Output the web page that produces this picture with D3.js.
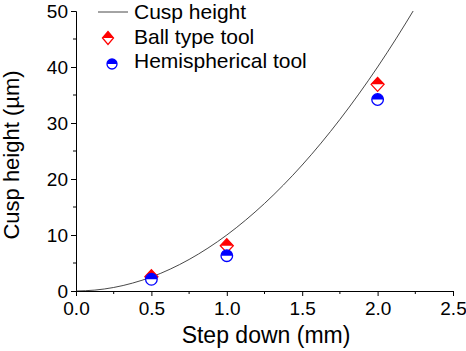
<!DOCTYPE html>
<html><head><meta charset="utf-8">
<script src="https://cdn.jsdelivr.net/npm/d3@7"></script>
<style>body{margin:0;background:#fff;} svg{display:block;font-family:"Liberation Sans",Arial,sans-serif;}</style>
</head><body><svg id="c" width="466" height="351"></svg>
<script>
// theoretical cusp height curve (step down mm, cusp height µm)
const curveStep = [0,0.125,0.25,0.375,0.5,0.625,0.75,0.875,1.0,1.125,1.25,1.375,1.5,1.625,1.75,1.875,2.0,2.125,2.25];
const curveHeight = [0,0.16,0.63,1.41,2.5,3.91,5.63,7.66,10,12.66,15.63,18.91,22.5,26.41,30.63,35.16,40,45.16,50.63];
const stepDown = [0.5,1.0,2.0];
const ballType = [2.55,8.1,36.9];
const hemispherical = [2.1,6.3,34.2];
const xTicks = [0,0.5,1.0,1.5,2.0,2.5];
const yTicks = [0,10,20,30,40,50];
const legendLabels = ["Cusp height","Ball type tool","Hemispherical tool"];

const svg = d3.select("#c");
const x = d3.scaleLinear().domain([0,2.5]).range([76,453]);
const y = d3.scaleLinear().domain([0,50]).range([291,11]);
const FONT = "Liberation Sans, Arial, sans-serif";

svg.append("clipPath").attr("id","clip").append("rect")
  .attr("x",76).attr("y",11).attr("width",377).attr("height",280);

// axes
const xAxis = d3.axisBottom(x).tickValues(xTicks).tickFormat(d3.format(".1f")).tickSizeOuter(0).tickSize(5).tickPadding(6);
const gx = svg.append("g").attr("transform","translate(0,291)").call(xAxis);
gx.selectAll(".tick line").attr("stroke","#000");
gx.selectAll("text").attr("font-size",19).attr("fill","#000").attr("font-family",FONT);
gx.append("g").selectAll("line").data(d3.range(0.25,2.5,0.5)).join("line")
  .attr("x1",d=>x(d)).attr("x2",d=>x(d)).attr("y1",0).attr("y2",3).attr("stroke","#000");

const yAxis = d3.axisLeft(y).tickValues(yTicks).tickSizeOuter(0).tickSize(5).tickPadding(3);
const gy = svg.append("g").attr("transform","translate(76,0)").call(yAxis);
gy.selectAll("text").attr("font-size",19).attr("fill","#000").attr("font-family",FONT);
gy.append("g").selectAll("line").data(d3.range(5,50,10)).join("line")
  .attr("y1",d=>y(d)).attr("y2",d=>y(d)).attr("x1",0).attr("x2",-3).attr("stroke","#000");
svg.selectAll(".domain").attr("stroke","#000");

// axis titles
svg.append("text").attr("x",266).attr("y",343).attr("text-anchor","middle")
  .attr("font-size",23).text("Step down (mm)");
svg.append("text").attr("transform","translate(19,155) rotate(-90)").attr("text-anchor","middle")
  .attr("font-size",22).text("Cusp height (\u00b5m)");

// curve
const line = d3.line().x((d,i)=>x(curveStep[i])).y(d=>y(d)).curve(d3.curveMonotoneX);
svg.append("path").datum(curveHeight).attr("d",line).attr("fill","none")
  .attr("stroke","#333").attr("stroke-width",0.9).attr("clip-path","url(#clip)");

// markers
function diamond(g, cx, cy, w, h){
  g.append("path").attr("d",`M${cx-w},${cy}L${cx},${cy+h}L${cx+w},${cy}Z`).attr("fill","#fff");
  g.append("path").attr("d",`M${cx-w},${cy}L${cx},${cy-h}L${cx+w},${cy}Z`).attr("fill","#ff0000");
  g.append("path").attr("d",`M${cx-w},${cy}L${cx},${cy-h}L${cx+w},${cy}L${cx},${cy+h}Z`).attr("fill","none").attr("stroke","#ff0000").attr("stroke-width",1.3);
}
function halfCircle(g, cx, cy, r){
  g.append("circle").attr("cx",cx).attr("cy",cy).attr("r",r).attr("fill","#fff");
  g.append("path").attr("d",`M${cx-r},${cy}A${r},${r} 0 0 1 ${cx+r},${cy}Z`).attr("fill","#0000ff");
  g.append("circle").attr("cx",cx).attr("cy",cy).attr("r",r).attr("fill","none").attr("stroke","#0000ff").attr("stroke-width",1.3);
}
const gm = svg.append("g");
stepDown.forEach((s,i)=>{ diamond(gm, x(s), y(ballType[i]), 6.5, 7); });
stepDown.forEach((s,i)=>{ halfCircle(gm, x(s), y(hemispherical[i]), 5.8); });

// legend
const lg = svg.append("g");
lg.append("line").attr("x1",98).attr("x2",128).attr("y1",12).attr("y2",12).attr("stroke","#333").attr("stroke-width",0.9);
diamond(lg, 108, 38, 5.5, 6.5);
halfCircle(lg, 112, 64, 5);
const legendY = [19, 43.5, 68];
legendLabels.forEach((t,i)=>{
  lg.append("text").attr("x",134).attr("y",legendY[i]).attr("font-size",21).text(t);
});
</script></body></html>
